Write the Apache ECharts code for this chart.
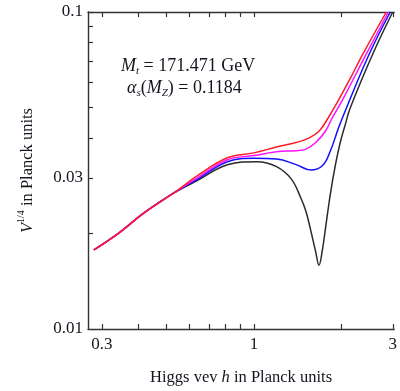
<!DOCTYPE html>
<html><head><meta charset="utf-8">
<script src="https://cdn.jsdelivr.net/npm/echarts@6/dist/echarts.min.js"></script>
<style>html,body{margin:0;padding:0;background:#fff}#c{width:400px;height:391px}</style>
</head><body><div id="c"></div>
<script>
// Higgs vev h (Planck units) and V^{1/4} (Planck units); both axes logarithmic
const commonH = [0.282, 0.345, 0.419, 0.529];
const commonV = [0.01778, 0.02015, 0.02324, 0.02681];

const redH = [0.643, 0.811, 1.0, 1.196, 1.396, 1.544, 1.673, 1.790, 1.934, 2.141, 2.367, 2.852];
const redV = [0.03056, 0.03468, 0.03594, 0.03752, 0.03875, 0.04002, 0.04206, 0.04596, 0.05188, 0.06159, 0.0736, 0.1];

const magentaH = [0.643, 0.811, 1.0, 1.196, 1.396, 1.509, 1.631, 1.7625, 1.857, 2.0115, 2.432, 2.897];
const magentaV = [0.03008, 0.03420, 0.03524, 0.03625, 0.03651, 0.03693, 0.03875, 0.04212, 0.04630, 0.05262, 0.0736, 0.1];

const blueH = [0.643, 0.811, 1.0, 1.196, 1.396, 1.569, 1.722, 1.832, 1.954, 2.091, 2.489, 2.942];
const blueV = [0.02976, 0.03371, 0.03456, 0.03439, 0.03300, 0.03173, 0.03281, 0.03651, 0.04311, 0.05043, 0.0736, 0.1];

const blackH = [0.643, 0.811, 1.024, 1.196, 1.343, 1.452, 1.509, 1.569, 1.631, 1.673, 1.718, 1.763, 1.832, 1.905, 1.980, 2.059, 2.141, 2.559, 3.0];
const blackV = [0.02949, 0.03295, 0.03371, 0.03253, 0.02976, 0.02581, 0.02352, 0.02040, 0.01748, 0.01589, 0.01769, 0.02088, 0.02674, 0.03289, 0.03875, 0.04406, 0.04973, 0.0736, 0.1];

const xTicks = [0.3, 0.4, 0.5, 0.6, 0.7, 0.8, 0.9, 1, 2, 3];
const xLabels = [0.3, 1, 3];
const yTicks = [0.02, 0.03, 0.04, 0.05, 0.06, 0.07, 0.08, 0.09, 0.1];
const yLabels = [0.01, 0.03, 0.1];
const xRange = [0.269, 3.034];
const yRange = [0.01, 0.1];

const L = Math.log10;
function pts(h, v) {
  const a = commonH.map((x, i) => [L(x), L(commonV[i])]);
  return a.concat(h.map((x, i) => [L(x), L(v[i])]));
}

const FONT = '"Liberation Serif", "DejaVu Serif", serif';
const TXT = '#15151f';
const fmt = v => String(+Math.pow(10, v).toPrecision(2));

const chart = echarts.init(document.getElementById('c'), null, {renderer: 'canvas'});
const axisLine = {show: true, onZero: false, lineStyle: {color: '#333', width: 1.4}};

function xAx(pos, labels) {
  return {
    type: 'value', position: pos, min: L(xRange[0]), max: L(xRange[1]),
    axisLine: axisLine,
    axisTick: {show: true, inside: true, length: 5, customValues: xTicks.map(L), lineStyle: {color: '#333', width: 1.2}},
    axisLabel: {show: labels, customValues: xLabels.map(L), formatter: fmt, margin: 7,
      fontFamily: FONT, fontSize: 17, color: TXT},
    minorTick: {show: false}, splitLine: {show: false}
  };
}

const xA0 = xAx('bottom', true);
xA0.name = '{a|Higgs vev }{i|h}{a| in Planck units}';
xA0.nameLocation = 'middle';
xA0.nameGap = 40;
xA0.nameTextStyle = {
  rich: {
    a: {fontFamily: FONT, fontSize: 16.5, color: TXT},
    i: {fontFamily: FONT, fontSize: 16.5, color: TXT, fontStyle: 'italic'}
  }
};
const xA1 = xAx('top', false);

chart.setOption({
  animation: false,
  backgroundColor: '#fff',
  grid: {left: 88, top: 12, right: 0, height: 323, containLabel: false},
  xAxis: [xA0, xA1],
  yAxis: {
    type: 'value', position: 'left', min: L(yRange[0]), max: L(yRange[1]),
    axisLine: axisLine,
    axisTick: {show: true, inside: true, length: 5, customValues: yTicks.map(L), lineStyle: {color: '#333', width: 1.2}},
    axisLabel: {customValues: yLabels.map(L), formatter: fmt, margin: 5, fontFamily: FONT, fontSize: 17, color: TXT},
    minorTick: {show: false}, splitLine: {show: false},
    name: '{i|V}{s|1/4}{a| in Planck units}',
    nameLocation: 'middle', nameGap: 52, nameRotate: 90,
    nameTextStyle: {
      rich: {
        a: {fontFamily: FONT, fontSize: 16.5, color: TXT, lineHeight: 20, verticalAlign: 'bottom'},
        i: {fontFamily: FONT, fontSize: 16.5, color: TXT, fontStyle: 'italic', lineHeight: 20, verticalAlign: 'bottom'},
        s: {fontFamily: FONT, fontSize: 10, color: TXT, lineHeight: 12, verticalAlign: 'top'}
      }
    }
  },
  graphic: [
    {type: 'text', left: 121, top: 57, style: {
      text: '{i|M}{s|t}{a| = 171.471 GeV}', rich: {
        a: {fontFamily: FONT, fontSize: 18, fill: TXT, lineHeight: 20, verticalAlign: 'top'},
        i: {fontFamily: FONT, fontSize: 18, fill: TXT, fontStyle: 'italic', lineHeight: 20, verticalAlign: 'top'},
        s: {fontFamily: FONT, fontSize: 11, fill: TXT, fontStyle: 'italic', lineHeight: 12, verticalAlign: 'bottom'}
      }}},
    {type: 'text', left: 127, top: 79, style: {
      text: '{i|α}{s|s}{a|(}{i|M}{s|Z}{a|) = 0.1184}', rich: {
        a: {fontFamily: FONT, fontSize: 18, fill: TXT, lineHeight: 20, verticalAlign: 'top'},
        i: {fontFamily: FONT, fontSize: 18, fill: TXT, fontStyle: 'italic', lineHeight: 20, verticalAlign: 'top'},
        s: {fontFamily: FONT, fontSize: 11, fill: TXT, fontStyle: 'italic', lineHeight: 12, verticalAlign: 'bottom'}
      }}}
  ],
  series: [
    {name: 'black', type: 'line', data: pts(blackH, blackV), color: '#2a2a2a'},
    {name: 'blue', type: 'line', data: pts(blueH, blueV), color: '#1010ff'},
    {name: 'magenta', type: 'line', data: pts(magentaH, magentaV), color: '#ff10ff'},
    {name: 'red', type: 'line', data: pts(redH, redV), color: '#ff1a2a'}
  ].map(s => Object.assign(s, {
    showSymbol: false, smooth: 0.4, clip: true,
    lineStyle: {width: 1.5, color: s.color}
  }))
});
</script></body></html>
